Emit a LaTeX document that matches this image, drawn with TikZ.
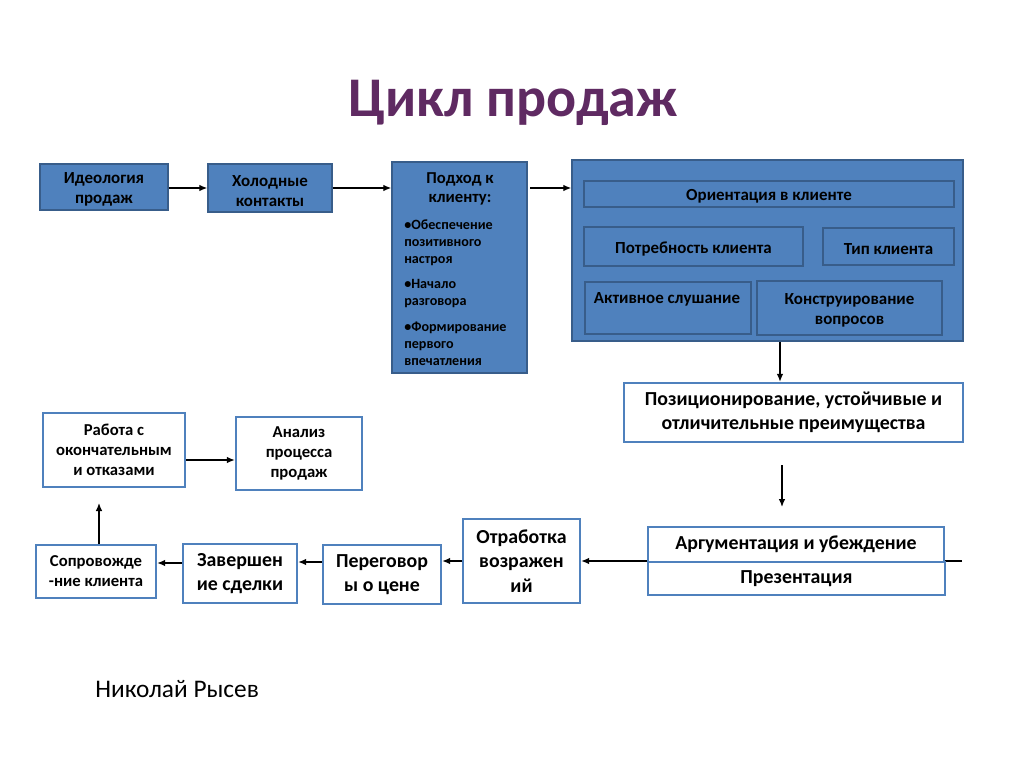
\documentclass[tikz,border=0pt]{standalone}
\usepackage{fontspec}
\setmainfont{Carlito}
\usetikzlibrary{arrows.meta}
\definecolor{fillblue}{HTML}{4F81BD}
\definecolor{edgeblue}{HTML}{385D8A}
\definecolor{titlepurple}{HTML}{5F2A62}
% white/plain box with centred text
\newcommand\bx[7]{\node[#6, minimum width={(#4-#2)*0.75pt}, minimum height={(#5-#3)*0.75pt}] (#1) at ({(#2+#4)/2},{(#3+#5)/2}) {#7};}
% dark box, text set slightly low as in the reference
\newcommand\dbx[6]{\node[dbox, minimum width={(#4-#2)*0.75pt}, minimum height={(#5-#3)*0.75pt}] (#1) at ({(#2+#4)/2},{(#3+#5)/2}) {};
  \node[lbl, yshift=-2pt] (#1-t) at (#1.center) {#6};}
\begin{document}
\begin{tikzpicture}[x=0.75pt,y=-0.75pt,
  dbox/.style={draw=edgeblue, line width=1.1pt, fill=fillblue, inner sep=0pt},
  wbox/.style={draw=fillblue, line width=1.8pt, fill=white, inner sep=0pt, align=center,
    font=\bfseries\fontsize{14.9}{18.4}\selectfont},
  wsmall/.style={wbox, font=\bfseries\fontsize{12.5}{15}\selectfont},
  arr/.style={-{Latex[length=6pt,width=5pt]}, line width=1pt},
  lbl/.style={inner sep=0pt, align=center, font=\bfseries\fontsize{12.7}{15}\selectfont}
]
\useasboundingbox[fill=white] (0,0) rectangle (1024,767);

% title
\node[anchor=base, inner sep=0pt, text=titlepurple, font=\bfseries\fontsize{42}{48}\selectfont] (title) at (513,116) {Цикл продаж};

% top row
\dbx{ideo}{40}{164}{168}{210}{Идеология\\продаж}
\dbx{hol}{208}{164}{332}{212}{Холодные\\контакты}
\dbx{pod}{392}{162}{527}{373}{}
\node[lbl, font=\bfseries\fontsize{12.5}{14.5}\selectfont] (podt) at (460,189) {Подход к\\клиенту:};
\node[anchor=north west, inner sep=0pt, align=left, font=\bfseries\fontsize{10.6}{12.75}\selectfont] (podb) at (404,219)
  {•Обеспечение\\позитивного\\настроя\\[6.5pt]•Начало\\разговора\\[6.5pt]•Формирование\\первого\\впечатления};

% big box
\dbx{big}{572}{160}{963}{341}{}
\dbx{ori}{584}{181}{954}{207}{Ориентация в клиенте}
\dbx{potr}{584}{227}{803}{266}{Потребность клиента}
\dbx{tip}{823}{228}{954}{265}{Тип клиента}
\dbx{akt}{585}{282}{751}{334}{}
\node[lbl] (aktt) at (667,299) {Активное слушание};
\dbx{kon}{757}{281}{942}{335}{Конструирование\\вопросов}

% arrows top row
\coordinate (ya) at (0,188);
\draw[arr] (ideo.east |- ya) -- (hol.west |- ya);
\draw[arr] (hol.east |- ya) -- (pod.west |- ya);
\draw[arr] ([xshift=2pt]pod.east |- ya) -- (big.west |- ya);

% positioning
\bx{pos}{624}{383}{963}{442}{wbox}{Позиционирование, устойчивые и\\отличительные преимущества}
\coordinate (bx) at (780,0);
\draw[arr] (big.south -| bx) -- (pos.north -| bx);
\coordinate (a1) at (782,465);
\coordinate (a2) at (782,507);
\draw[arr] (a1) -- (a2);

% bottom row
\bx{otr}{463}{519}{580}{603}{wbox}{Отработка\\возражен\\ий}
\bx{per}{323}{545}{441}{604}{wbox}{Переговор\\ы о цене}
\bx{zav}{183}{544}{297}{603}{wbox}{Завершен\\ие сделки}
\bx{sop}{36}{545}{156}{598}{wsmall}{Сопровожде\\-ние клиента}
\bx{rab}{43}{413}{185}{487}{wsmall}{Работа с\\окончательным\\и отказами}
\bx{anl}{236}{417}{362}{490}{wsmall}{Анализ\\процесса\\продаж}

\coordinate (hr) at (962,561);
\coordinate (hm) at (640,561);
\draw[line width=1pt] (hr) -- (hm);
\draw[arr] (hm) -- (otr.east |- hr);
\bx{arg}{648}{527}{944}{562}{wbox}{Аргументация и убеждение}
\bx{pre}{648}{562}{945}{595}{wbox}{Презентация}

\coordinate (y1) at (0,561);
\coordinate (y2) at (0,562);
\coordinate (y3) at (0,563);
\draw[arr] (otr.west |- y1) -- (per.east |- y1);
\draw[arr] (per.west |- y2) -- (zav.east |- y2);
\draw[arr] (zav.west |- y3) -- (sop.east |- y3);
\coordinate (upend) at (99,503);
\draw[arr] (sop.north -| upend) -- (upend);
\coordinate (y4) at (0,460);
\draw[arr] (rab.east |- y4) -- (anl.west |- y4);

% author
\node[anchor=base west, inner sep=0pt, font=\fontsize{19}{22}\selectfont] (auth) at (95,697) {Николай Рысев};
\end{tikzpicture}
\end{document}
